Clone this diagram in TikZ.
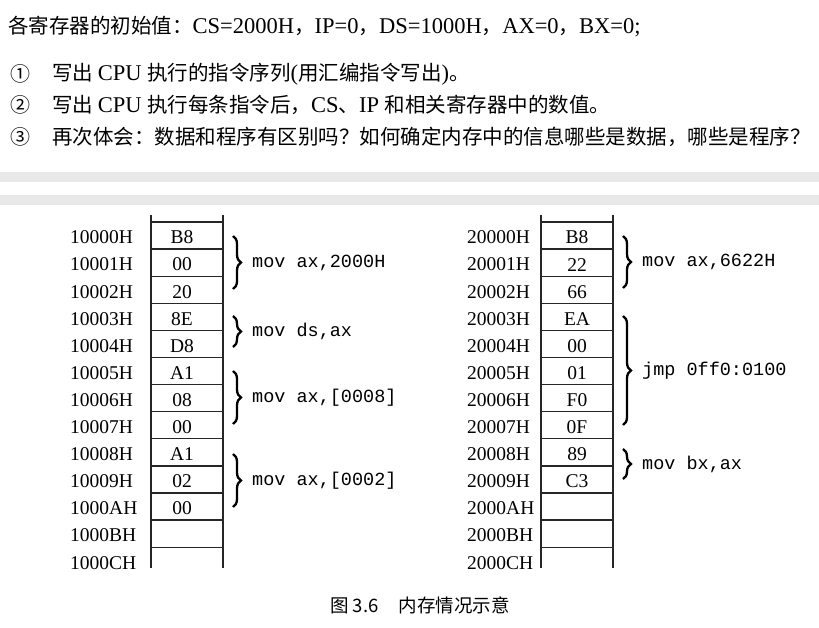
\documentclass[tikz,border=0pt]{standalone}
\usepackage{fontspec}
\setmainfont{Liberation Serif}
\newfontfamily\cjk{Noto Sans CJK SC}
\newfontfamily\monof{Liberation Mono}
\usetikzlibrary{decorations.pathreplacing}
\newcommand\zh[1]{{\cjk\fontsize{20.5}{24}\selectfont #1}}
\begin{document}
\begin{tikzpicture}[x=1pt,y=-1pt,
  band/.style={fill=black!9,draw=none},
  topline/.style={anchor=west,inner sep=0pt,font=\fontsize{22.5}{24}\selectfont},
  addr/.style={anchor=west,inner sep=0pt,font=\fontsize{19.5}{20}\selectfont},
  val/.style={anchor=center,inner sep=0pt,font=\fontsize{19.5}{20}\selectfont},
  grid/.style={line width=1.3pt,black!85},
  brc/.style={decorate,decoration={brace,amplitude=8pt},line width=2.3pt},
  code/.style={anchor=west,inner sep=0pt,font=\monof\fontsize{18.5}{20}\selectfont},
  capt/.style={inner sep=0pt,font=\cjk\fontsize{18.5}{20}\selectfont}]
\useasboundingbox (0,0) rectangle (819,628);
\fill[white] (0,0) rectangle (819,628);
% text lines
\node[topline] (t0) at (8,27) {\zh{各寄存器的初始值：}CS=2000H\zh{，}IP=0\zh{，}DS=1000H\zh{，}AX=0\zh{，}BX=0;};
\node[topline,font=\cjk\fontsize{20}{24}\selectfont] (n1) at (10,74) {①};
\node[topline,font=\cjk\fontsize{20}{24}\selectfont] (n2) at (10,105) {②};
\node[topline,font=\cjk\fontsize{20}{24}\selectfont] (n3) at (10,137) {③};
\node[topline] (t1) at (52,74) {\zh{写出 }CPU \zh{执行的指令序列}(\zh{用汇编指令写出})\zh{。}};
\node[topline] (t2) at (52,105) {\zh{写出 }CPU \zh{执行每条指令后，}CS\zh{、}IP \zh{和相关寄存器中的数值。}};
\node[topline] (t3) at (52,137) {\zh{再次体会：数据和程序有区别吗？如何确定内存中的信息哪些是数据，哪些是程序？}};
% bands
\path[band] (0,172) rectangle (819,182);
\path[band] (0,195) rectangle (819,205);
% columns
\foreach \cx in {151,541} {
  \draw[grid] (\cx,215) -- (\cx,568);
  \draw[grid] ({\cx+72},215) -- ({\cx+72},568);
  \foreach \k in {0,...,12} \draw[grid] (\cx,{222+27.1*\k}) -- ({\cx+72},{222+27.1*\k});
}
% addresses and values
\foreach \a [count=\i from 0] in {10000H,10001H,10002H,10003H,10004H,10005H,10006H,10007H,10008H,10009H,1000AH,1000BH,1000CH}
  \node[addr] (LA\i) at (70,{237.5+27.1*\i}) {\a};
\foreach \v [count=\i from 0] in {B8,00,20,8E,D8,A1,08,00,A1,02,00}
  \node[val] (LV\i) at (182,{237.5+27.1*\i}) {\v};
\foreach \a [count=\i from 0] in {20000H,20001H,20002H,20003H,20004H,20005H,20006H,20007H,20008H,20009H,2000AH,2000BH,2000CH}
  \node[addr] (RA\i) at (467,{237.5+27.1*\i}) {\a};
\foreach \v [count=\i from 0] in {B8,22,66,EA,00,01,F0,0F,89,C3}
  \node[val] (RV\i) at (577,{237.5+27.1*\i}) {\v};
% braces
\coordinate (lb1t) at (233,236); \coordinate (lb1b) at (233,289);
\coordinate (lb2t) at (233,316); \coordinate (lb2b) at (233,347);
\coordinate (lb3t) at (233,371); \coordinate (lb3b) at (233,424);
\coordinate (lb4t) at (233,454); \coordinate (lb4b) at (233,507);
\draw[brc] (lb1t) -- (lb1b) node[midway,right=18pt,code] (c1) {mov ax,2000H};
\draw[brc] (lb2t) -- (lb2b) node[midway,right=18pt,code] (c2) {mov ds,ax};
\draw[brc] (lb3t) -- (lb3b) node[midway,right=18pt,code] (c3) {mov ax,[0008]};
\draw[brc] (lb4t) -- (lb4b) node[midway,right=18pt,code] (c4) {mov ax,[0002]};
\coordinate (rb1t) at (623,236); \coordinate (rb1b) at (623,288);
\coordinate (rb2t) at (623,316); \coordinate (rb2b) at (623,425);
\coordinate (rb3t) at (623,449); \coordinate (rb3b) at (623,479);
\draw[brc] (rb1t) -- (rb1b) node[midway,right=18pt,code] (c5) {mov ax,6622H};
\draw[brc] (rb2t) -- (rb2b) node[midway,right=18pt,code] (c6) {jmp 0ff0:0100};
\draw[brc] (rb3t) -- (rb3b) node[midway,right=18pt,code] (c7) {mov bx,ax};
% caption
\node[capt] (cap) at (420,605) {图 3.6\hspace{1.1em}内存情况示意};
\end{tikzpicture}
\end{document}
